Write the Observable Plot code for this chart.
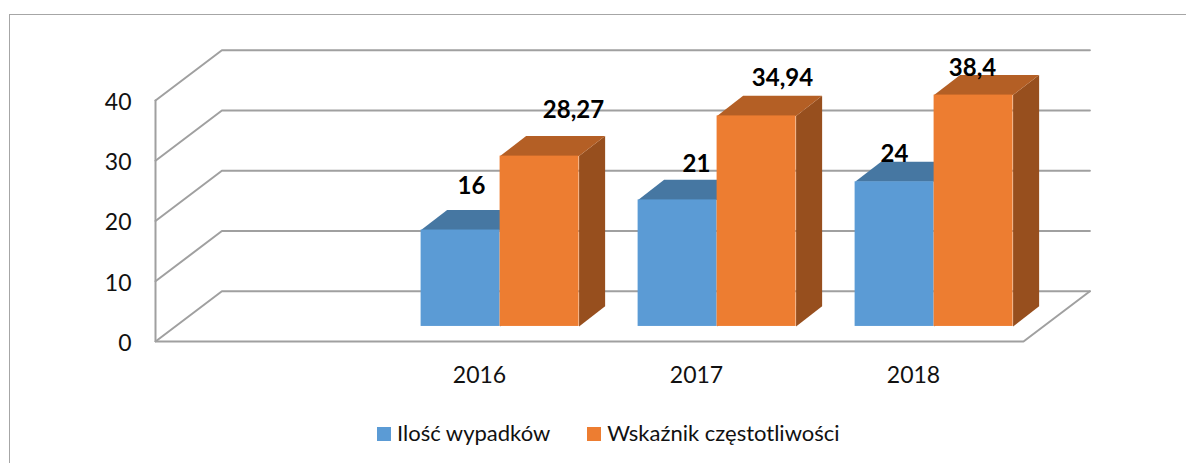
<!DOCTYPE html>
<html><head><meta charset="utf-8">
<script src="https://cdn.jsdelivr.net/npm/d3@7"></script>
<script src="https://cdn.jsdelivr.net/npm/@observablehq/plot@0.6"></script>
<style>
html,body{margin:0;padding:0;background:#fff;overflow:hidden}
#frame{position:absolute;left:9px;top:14px;width:1190px;height:470px;border:1px solid #a6a6a6;box-sizing:border-box}
#chart{position:absolute;left:0;top:0}
#legend{position:absolute;left:377px;top:419px;font:22px Lato,sans-serif;color:#111;white-space:nowrap}
#legend span.k{display:inline-block;width:14px;height:14px;margin-right:6px;vertical-align:0px}
#legend span.t{margin-right:37px}
</style></head><body>
<div id="frame"></div>
<div id="chart"></div>
<div id="legend"></div>
<script>
const years = [2016, 2017, 2018];
const accidents = [16, 21, 24];
const frequency = [28.27, 34.94, 38.4];
const seriesNames = ["Ilość wypadków", "Wskaźnik częstotliwości"];
const frontColors = ["#5b9bd5", "#ed7d31"];
const topColors = ["#4677a2", "#b45f25"];
const sideColors = ["#3d6890", "#974f1e"];
const yTicks = [0, 10, 20, 30, 40];
const depth = {wallX: 0.306, wallY: 8.33, barStartX: 0.088, barStartY: 2.5, barX: 0.12, barY: 3.33};
const barWidth = 0.364;

const xOf = (yr, s) => yr + depth.barStartX + (s - 1) * barWidth;
const rows = [];
years.forEach((yr, i) => {
  [accidents[i], frequency[i]].forEach((v, s) => rows.push({yr, s, v, x0: xOf(yr, s), x1: xOf(yr, s) + barWidth}));
});

const poly = (id, color, pts) => pts.map(([x, y]) => ({id, color, x, y}));
const top3d = [], side3d = [];
for (const r of rows) {
  const b = depth.barStartY, t = r.v + b;
  top3d.push(...poly(`t${r.yr}${r.s}`, topColors[r.s], [[r.x0, t], [r.x1, t], [r.x1 + depth.barX, t + depth.barY], [r.x0 + depth.barX, t + depth.barY]]));
  side3d.push(...poly(`s${r.yr}${r.s}`, sideColors[r.s], [[r.x1, b], [r.x1, t], [r.x1 + depth.barX, t + depth.barY], [r.x1 + depth.barX, b + depth.barY]]));
}
const xMin = 2014.5, xMax = 2018.5;
const wallLines = yTicks.map(v => [[xMin, v], [xMin + depth.wallX, v + depth.wallY], [xMax + depth.wallX, v + depth.wallY]]).map((pts, i) => pts.map(([x, y]) => ({x, y, id: i})));
const outline = [[xMin, 40], [xMin, 0], [xMax, 0], [xMax + depth.wallX, depth.wallY]].map(([x, y]) => ({x, y, id: "o"}));
const labelPos = [
  {l: "16", x: 471, y: 186}, {l: "28,27", x: 573, y: 110},
  {l: "21", x: 696, y: 164}, {l: "34,94", x: 782, y: 78},
  {l: "24", x: 894, y: 154}, {l: "38,4", x: 972, y: 68}
];
const sx = d3.scaleLinear([155, 1023], [xMin, xMax]);
const sy = d3.scaleLinear([341, 100], [0, 40]);
const labels = labelPos.map(d => ({l: d.l, x: sx(d.x), y: sy(d.y)}));

const plot = Plot.plot({
  width: 1186, height: 463,
  style: {background: "transparent", fontFamily: "Lato, sans-serif"},
  x: {domain: [xMin, xMax], range: [155, 1023], axis: null},
  y: {domain: [0, 40], range: [341, 100], axis: null},
  marks: [
    Plot.line([].concat(...wallLines), {x: "x", y: "y", z: "id", stroke: "#a0a0a0", strokeWidth: 2, strokeLinejoin: "miter"}),
    Plot.line(outline, {x: "x", y: "y", z: "id", stroke: "#a0a0a0", strokeWidth: 2, strokeLinejoin: "miter"}),
    Plot.line(side3d, {x: "x", y: "y", z: "id", fill: "color", stroke: "none", curve: "linear-closed"}),
    Plot.line(top3d, {x: "x", y: "y", z: "id", fill: "color", stroke: "none", curve: "linear-closed"}),
    Plot.rect(rows, {x1: "x0", x2: "x1", y1: depth.barStartY, y2: d => d.v + depth.barStartY, fill: d => frontColors[d.s]}),
    Plot.text(yTicks, {x: xMin, y: d => d, text: d => String(d), textAnchor: "end", dx: -24, dy: 2, fontSize: 23, fill: "#111"}),
    Plot.text(years, {x: d => d, y: 0, text: d => String(d), dx: -1.5, dy: 34, fontSize: 23, fill: "#111"}),
    Plot.text(labels, {x: "x", y: "y", text: "l", fontSize: 24, fontWeight: 700, fill: "#000"})
  ]
});
document.getElementById("chart").append(plot);
const lg = document.getElementById("legend");
seriesNames.forEach((n, i) => {
  const k = document.createElement("span"); k.className = "k"; k.style.background = frontColors[i];
  const t = document.createElement("span"); t.className = "t"; t.textContent = n;
  lg.append(k, t);
});
</script></body></html>
